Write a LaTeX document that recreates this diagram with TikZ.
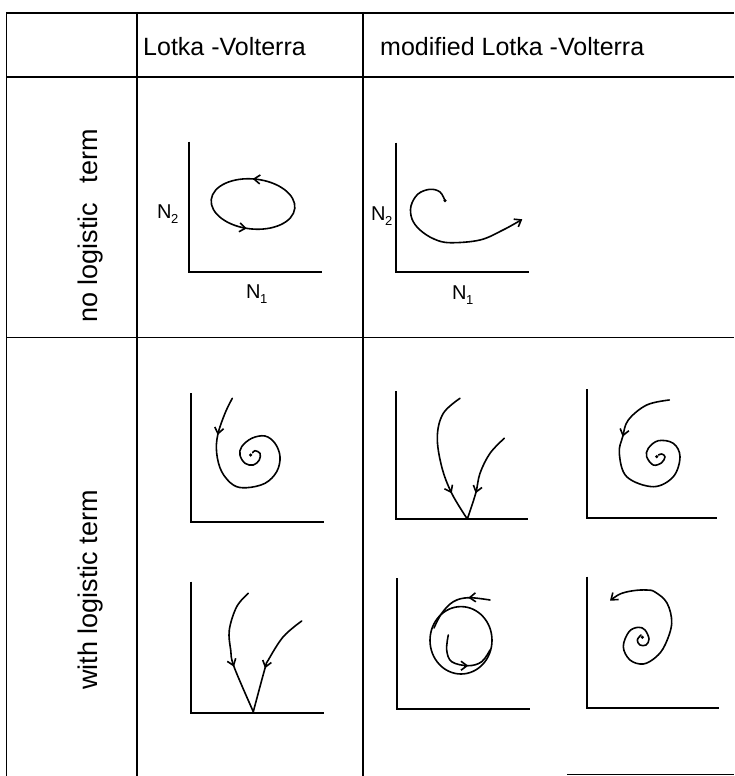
\documentclass[tikz,border=0pt]{standalone}
\usepackage{fontspec}
\setmainfont{Liberation Sans}
\usetikzlibrary{arrows.meta}
\tikzset{
  mytip/.tip={Straight Barb[length=6pt,width=9pt]},
  gridline/.style={line width=1.8pt},
  axisline/.style={line width=2.2pt},
  traj/.style={line width=1.6pt, line cap=round, line join=round},
  tipseg/.style={line width=1.6pt, -{mytip}},
  hdr/.style={font=\fontsize{25}{30}\selectfont, inner sep=0pt},
  rowlab/.style={font=\fontsize{27}{32}\selectfont, inner sep=0pt, rotate=90, anchor=base west},
  lab/.style={font=\fontsize{20}{24}\selectfont, inner sep=0pt},
  dotn/.style={circle, fill, inner sep=0pt, minimum size=3.5pt}
}
\newcommand{\Nsb}[1]{N\kern-0.5pt\raisebox{-5pt}{\fontsize{13}{13}\selectfont #1}}
\begin{document}
\begin{tikzpicture}[x=1pt,y=-1pt]
\useasboundingbox (0,0) rectangle (734,776);
% table
\draw[gridline] (6.5,13) -- (734,13);
\draw[gridline] (6.5,77) -- (734,77);
\draw[gridline] (6.5,337.5) -- (734,337.5);
\draw[gridline] (6.5,12) -- (6.5,776);
\draw[gridline] (137,12) -- (137,776);
\draw[gridline] (363,12) -- (363,776);
\draw[gridline] (567,774.5) -- (734,774.5);
% headers
\node[hdr, anchor=base west] (h1) at (143,56) {Lotka -Volterra};
\node[hdr, anchor=base west] (h2) at (380,56) {modified Lotka -Volterra};
\node[rowlab] (r1) at (97,323) {no logistic\hspace{0.45em} term};
\node[rowlab] (r2) at (97,690) {with logistic term};

% panel A: LV, no logistic
\draw[axisline] (189,141.7) -- (189,272.3) -- (321.7,272.3);
\node[lab, anchor=base west] (a2) at (157,218) {\Nsb{2}};
\node[lab, anchor=base west] (a1) at (246,298) {\Nsb{1}};
\draw[traj, rotate around={-6:(253,204)}] (253,204) ellipse [x radius=42, y radius=25];
\draw[tipseg] (256.7,179.2) -- (252.7,178.9);
\draw[tipseg] (242.8,227.8) -- (246.8,228.4);

% panel B: modified LV, no logistic
\draw[axisline] (396,142.7) -- (396,271.7) -- (529.3,271.7);
\node[lab, anchor=base west] (b2) at (371,220) {\Nsb{2}};
\node[lab, anchor=base west] (b1) at (452,299) {\Nsb{1}};
\node[dotn] (bd) at (445,200.7) {};
\draw[traj, -{mytip}] plot[smooth, tension=0.6] coordinates {(445,200.7) (440,192) (430,189.3) (418,194) (411,206) (412,219) (420,230) (434,239) (450,242.7) (480,240) (503,230) (522.3,219.3)};

% panel C: LV, with logistic (spiral)
\draw[axisline] (190.7,393.3) -- (190.7,522.3) -- (324,522.3);
\node[dotn] (cd) at (250.7,455) {};
\draw[traj] plot[smooth, tension=0.6] coordinates {(232.3,398.3) (225,413.3) (217.7,435) (216.7,453.3) (221.7,471.7) (233.3,485) (246.7,487.7) (265,483.3) (276.7,471.7) (280,456.7) (275,443.3) (265,436) (251.7,438.3) (241.7,446.7) (240,455) (245,463.3) (253.3,465) (259.3,460) (260,453.3) (255,450.7) (252.7,452.7)};
\draw[tipseg] (218.5,431.1) -- (217.7,435);

% panel D: modified LV, with logistic (node)
\draw[axisline] (396,391) -- (396,519.3) -- (528.3,519.3);
\draw[traj] plot[smooth, tension=0.6] coordinates {(460,398.3) (443.3,413.3) (437.3,436.7) (441.7,466.7) (451.7,493.3) (467.3,519)};
\draw[traj] plot[smooth, tension=0.6] coordinates {(504.3,438.3) (490,453.3) (480,473.3) (475.7,493.3) (467.3,519)};
\draw[tipseg] (449.9,489.7) -- (451.7,493.3);
\draw[tipseg] (476.8,489.4) -- (475.7,493.3);

% panel E: modified LV, with logistic (spiral)
\draw[axisline] (586.7,389.3) -- (586.7,518.3) -- (716.7,518.3);
\node[dotn] (ed) at (656.7,456.7) {};
\draw[traj] plot[smooth, tension=0.6] coordinates {(669.3,400) (646.7,405) (628.3,420) (622.7,436.7) (619.3,453.3) (626.7,476.7) (653.3,486.7) (673.3,476.7) (680,456.7) (673.3,443.3) (658.3,440.7) (648.3,448.3) (646.7,456.7) (653.3,465) (661.7,462.7) (665,456.7) (661.7,454) (658.5,455)};
\draw[tipseg] (623.7,432.8) -- (622.7,436.7);

% panel F: LV, with logistic (node)
\draw[axisline] (190.7,581.7) -- (190.7,712.7) -- (324,712.7);
\draw[traj] plot[smooth, tension=0.6] coordinates {(248.3,593.3) (236.7,606.7) (229.3,630) (230.7,650) (234,666.7) (253.3,711.7)};
\draw[traj] plot[smooth, tension=0.6] coordinates {(301.7,621) (283.3,636.7) (268.3,660) (265,668.3) (253.3,711.7)};
\draw[tipseg] (232.6,662.9) -- (234,666.7);
\draw[tipseg] (266.1,664.5) -- (265,668.3);

% panel G: modified LV, with logistic (limit cycle)
\draw[axisline] (396.7,578.3) -- (396.7,709.3) -- (530,709.3);
\draw[traj] (461,640.3) ellipse [x radius=31, y radius=33.7];
\draw[traj] plot[smooth, tension=0.6] coordinates {(490,600) (468.3,597.7) (453.3,601.7) (441.7,613.3) (434,628)};
\draw[traj] plot[smooth, tension=0.6] coordinates {(448.3,635) (446.7,650) (451.7,661.7) (468.3,665.7) (481.7,661.7) (490,650)};
\draw[tipseg] (472.3,597.5) -- (468.3,597.7);
\draw[tipseg] (464.3,665.7) -- (468.3,665.7);

% panel H: modified LV, with logistic (unstable spiral)
\draw[axisline] (586.7,576.7) -- (586.7,708.3) -- (719.3,708.3);
\node[dotn] (hd) at (642.3,637.3) {};
\draw[traj, -{mytip}] plot[smooth, tension=0.6] coordinates {(641,635) (637.3,640) (640,645) (646,645) (649,639) (645,630) (638.3,627.3) (629,631.7) (623.3,646.7) (630,660) (643.3,664) (656,657) (665,645) (671.7,623.3) (667,603) (655,592) (646.7,590) (633.3,590.7) (620,594) (610,600.7)};
\end{tikzpicture}
\end{document}
